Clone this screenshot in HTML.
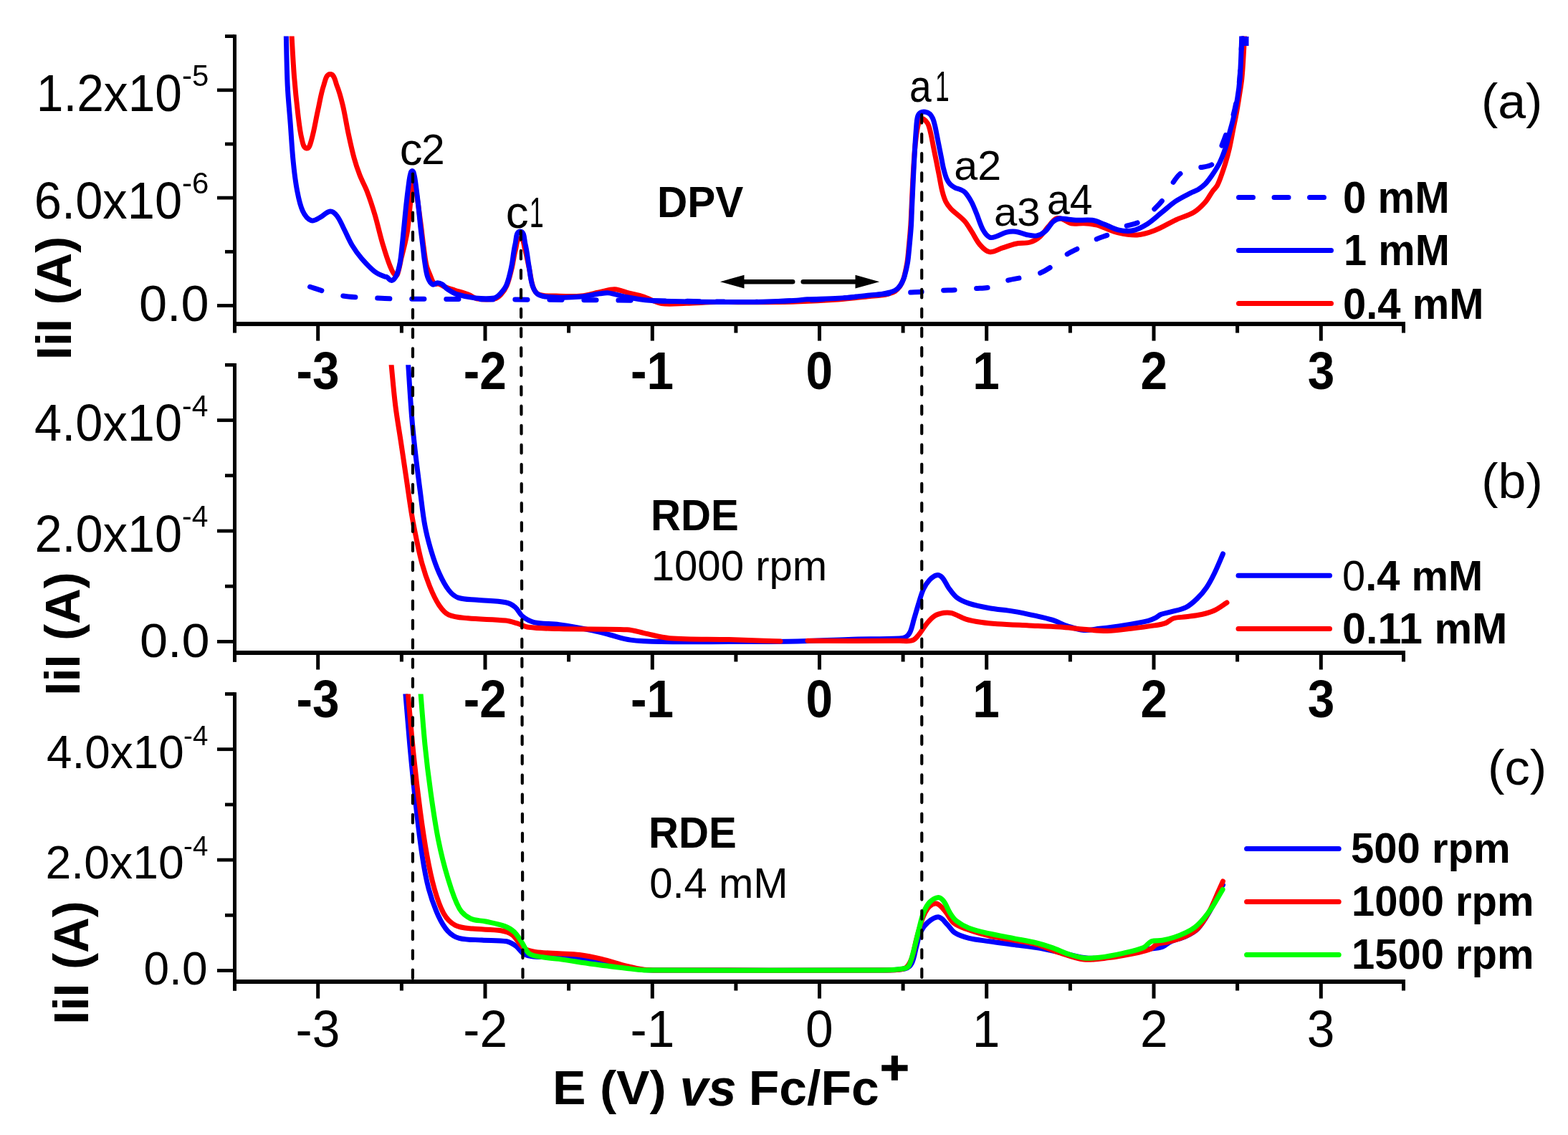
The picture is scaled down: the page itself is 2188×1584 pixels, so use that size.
<!DOCTYPE html>
<html><head><meta charset="utf-8"><style>
html,body{margin:0;padding:0;background:#fff;overflow:hidden}
svg{display:block}
text{font-family:"Liberation Sans",Arial,sans-serif;fill:#000}
</style></head><body>
<svg width="2188" height="1584" viewBox="0 0 2188 1584">
<defs><clipPath id="clipa"><rect x="327.5" y="50.6" width="1633.5" height="401.5"/></clipPath><clipPath id="clipb"><rect x="327.5" y="509.3" width="1633.5" height="401.7"/></clipPath><clipPath id="clipc"><rect x="327.5" y="968.5" width="1633.5" height="401.5"/></clipPath></defs>
<rect width="2188" height="1584" fill="#fff"/>
<rect x="325" y="48.3" width="5" height="416.3"/>
<rect x="325" y="449.1" width="1636" height="6"/>
<rect x="303" y="424.1" width="24.5" height="4.8"/>
<rect x="314" y="348.9" width="13.5" height="4.8"/>
<rect x="303" y="273.7" width="24.5" height="4.8"/>
<rect x="314" y="198.6" width="13.5" height="4.8"/>
<rect x="303" y="123.4" width="24.5" height="4.8"/>
<rect x="314" y="48.2" width="13.5" height="4.8"/>
<rect x="441.2" y="452.1" width="5" height="23.5"/>
<rect x="557.9" y="452.1" width="5" height="12.5"/>
<rect x="674.5" y="452.1" width="5" height="23.5"/>
<rect x="791.1" y="452.1" width="5" height="12.5"/>
<rect x="907.8" y="452.1" width="5" height="23.5"/>
<rect x="1024.4" y="452.1" width="5" height="12.5"/>
<rect x="1141.0" y="452.1" width="5" height="23.5"/>
<rect x="1257.6" y="452.1" width="5" height="12.5"/>
<rect x="1374.2" y="452.1" width="5" height="23.5"/>
<rect x="1490.9" y="452.1" width="5" height="12.5"/>
<rect x="1607.5" y="452.1" width="5" height="23.5"/>
<rect x="1724.1" y="452.1" width="5" height="12.5"/>
<rect x="1840.8" y="452.1" width="5" height="23.5"/>
<rect x="1956.0" y="452.1" width="5" height="12.5"/>
<rect x="325" y="507.0" width="5" height="416.9"/>
<rect x="325" y="908.0" width="1636" height="6"/>
<rect x="303" y="893.0" width="24.5" height="4.8"/>
<rect x="314" y="815.8" width="13.5" height="4.8"/>
<rect x="303" y="738.6" width="24.5" height="4.8"/>
<rect x="314" y="661.3" width="13.5" height="4.8"/>
<rect x="303" y="584.1" width="24.5" height="4.8"/>
<rect x="314" y="506.9" width="13.5" height="4.8"/>
<rect x="441.2" y="911.0" width="5" height="23.5"/>
<rect x="557.9" y="911.0" width="5" height="12.5"/>
<rect x="674.5" y="911.0" width="5" height="23.5"/>
<rect x="791.1" y="911.0" width="5" height="12.5"/>
<rect x="907.8" y="911.0" width="5" height="23.5"/>
<rect x="1024.4" y="911.0" width="5" height="12.5"/>
<rect x="1141.0" y="911.0" width="5" height="23.5"/>
<rect x="1257.6" y="911.0" width="5" height="12.5"/>
<rect x="1374.2" y="911.0" width="5" height="23.5"/>
<rect x="1490.9" y="911.0" width="5" height="12.5"/>
<rect x="1607.5" y="911.0" width="5" height="23.5"/>
<rect x="1724.1" y="911.0" width="5" height="12.5"/>
<rect x="1840.8" y="911.0" width="5" height="23.5"/>
<rect x="1956.0" y="911.0" width="5" height="12.5"/>
<rect x="325" y="966.2" width="5" height="416.6"/>
<rect x="325" y="1367.0" width="1636" height="6"/>
<rect x="303" y="1352.1" width="24.5" height="4.8"/>
<rect x="314" y="1274.9" width="13.5" height="4.8"/>
<rect x="303" y="1197.7" width="24.5" height="4.8"/>
<rect x="314" y="1120.5" width="13.5" height="4.8"/>
<rect x="303" y="1043.3" width="24.5" height="4.8"/>
<rect x="314" y="966.1" width="13.5" height="4.8"/>
<rect x="441.2" y="1370.0" width="5" height="23.5"/>
<rect x="557.9" y="1370.0" width="5" height="12.5"/>
<rect x="674.5" y="1370.0" width="5" height="23.5"/>
<rect x="791.1" y="1370.0" width="5" height="12.5"/>
<rect x="907.8" y="1370.0" width="5" height="23.5"/>
<rect x="1024.4" y="1370.0" width="5" height="12.5"/>
<rect x="1141.0" y="1370.0" width="5" height="23.5"/>
<rect x="1257.6" y="1370.0" width="5" height="12.5"/>
<rect x="1374.2" y="1370.0" width="5" height="23.5"/>
<rect x="1490.9" y="1370.0" width="5" height="12.5"/>
<rect x="1607.5" y="1370.0" width="5" height="23.5"/>
<rect x="1724.1" y="1370.0" width="5" height="12.5"/>
<rect x="1840.8" y="1370.0" width="5" height="23.5"/>
<rect x="1956.0" y="1370.0" width="5" height="12.5"/>
<text transform="matrix(0.9959 0 0 1.0745 50.72 155.10)" font-size="68">1.2x10</text>
<text transform="matrix(1.0000 0 0 1.0138 254.00 120.10)" font-size="42">-5</text>
<text transform="matrix(1.0101 0 0 1.0745 47.87 305.10)" font-size="68">6.0x10</text>
<text transform="matrix(1.0000 0 0 1.0138 254.00 270.10)" font-size="42">-6</text>
<text transform="matrix(1.0337 0 0 1.0255 193.90 448.10)" font-size="68">0.0</text>
<text transform="matrix(1.0090 0 0 1.0660 48.08 615.10)" font-size="68">4.0x10</text>
<text transform="matrix(0.9706 0 0 1.0034 254.06 581.00)" font-size="42">-4</text>
<text transform="matrix(1.0071 0 0 1.0660 48.48 769.50)" font-size="68">2.0x10</text>
<text transform="matrix(0.9706 0 0 1.0034 254.06 735.40)" font-size="42">-4</text>
<text transform="matrix(1.0337 0 0 0.9936 194.90 916.60)" font-size="68">0.0</text>
<text transform="matrix(0.9974 0 0 1.0222 65.00 1072.00)" font-size="64">4.0x10</text>
<text transform="matrix(0.9625 0 0 0.9714 256.07 1040.00)" font-size="40">-4</text>
<text transform="matrix(1.0048 0 0 1.0222 63.59 1226.00)" font-size="64">2.0x10</text>
<text transform="matrix(0.9625 0 0 0.9714 256.07 1194.00)" font-size="40">-4</text>
<text transform="matrix(1.0000 0 0 1.0000 200.50 1374.30)" font-size="64">0.0</text>
<text transform="matrix(1.0132 0 0 0.9953 2066.95 165.37)" font-size="69">(a)</text>
<text transform="matrix(1.0132 0 0 0.9828 2067.25 695.44)" font-size="69">(b)</text>
<text transform="matrix(1.0222 0 0 0.9828 2076.11 1095.34)" font-size="69">(c)</text>
<text transform="matrix(0.9547 0 0 1.0167 1873.99 296.70)" font-size="61" font-weight="bold">0 mM</text>
<text transform="matrix(0.9473 0 0 0.9952 1875.11 369.90)" font-size="61" font-weight="bold">1 mM</text>
<text transform="matrix(0.9498 0 0 1.0119 1874.00 444.60)" font-size="61" font-weight="bold">0.4 mM</text>
<text transform="matrix(0.9488 0 0 0.9833 1873.10 824.10)" font-size="61" font-weight="bold"><tspan font-weight="normal">0</tspan>.4 mM</text>
<text transform="matrix(0.9706 0 0 1.0095 1873.06 897.70)" font-size="61" font-weight="bold">0.11 mM</text>
<text transform="matrix(0.9518 0 0 0.9764 1885.00 1204.21)" font-size="61" font-weight="bold">500 rpm</text>
<text transform="matrix(0.9508 0 0 0.9855 1885.90 1278.19)" font-size="61" font-weight="bold">1000 rpm</text>
<text transform="matrix(0.9508 0 0 0.9800 1885.90 1352.26)" font-size="61" font-weight="bold">1500 rpm</text>
<text transform="matrix(0.9595 0 0 1.0000 917.06 303.00)" font-size="61" font-weight="bold">DPV</text>
<text transform="matrix(0.9533 0 0 1.0024 907.99 739.90)" font-size="61" font-weight="bold">RDE</text>
<text transform="matrix(0.9854 0 0 1.0000 908.67 809.90)" font-size="59">1000 rpm</text>
<text transform="matrix(0.9533 0 0 1.0024 904.99 1183.10)" font-size="61" font-weight="bold">RDE</text>
<text transform="matrix(0.9837 0 0 1.0122 906.13 1252.70)" font-size="59">0.4 mM</text>
<text transform="matrix(1.0760 0 0 1.0613 557.77 229.80)" font-size="59">c</text>
<text transform="matrix(0.9963 0 0 0.9976 588.11 228.90)" font-size="59">2</text>
<text transform="matrix(1.0800 0 0 1.0613 705.76 317.90)" font-size="59">c</text>
<text transform="matrix(0.6080 0 0 1.0024 738.86 317.00)" font-size="59">1</text>
<text transform="matrix(0.9367 0 0 1.0581 1269.09 141.80)" font-size="59">a</text>
<text transform="matrix(0.6000 0 0 1.0000 1305.00 141.00)" font-size="59">1</text>
<text transform="matrix(1.0033 0 0 0.9707 1331.29 250.50)" font-size="59">a2</text>
<text transform="matrix(0.9833 0 0 0.9415 1387.05 315.20)" font-size="59">a3</text>
<text transform="matrix(0.9689 0 0 0.9976 1460.99 299.30)" font-size="59">a4</text>
<text transform="matrix(1.0247 0 0 0.9938 771.08 1541.49)" font-size="68" font-weight="bold">E (V)</text>
<text transform="matrix(1.0478 0 0 1.0639 948.41 1543.10)" font-size="68" font-weight="bold" font-style="italic">vs</text>
<text transform="matrix(1.0247 0 0 1.0000 1044.78 1541.80)" font-size="68" font-weight="bold">Fc/Fc</text>
<text transform="matrix(1.0265 0 0 0.9629 1228.02 1511.61)" font-size="68" font-weight="bold" stroke="#000" stroke-width="1.3">+</text>
<text transform="matrix(0.9786 0 0 1.0745 413.41 543.30)" font-size="69" font-weight="bold">-3</text>
<text transform="matrix(0.9786 0 0 1.0702 413.41 1001.00)" font-size="69" font-weight="bold">-3</text>
<text transform="matrix(1.0218 0 0 1.0638 412.58 1461.00)" font-size="68">-3</text>
<text transform="matrix(0.9786 0 0 1.0745 646.66 543.30)" font-size="69" font-weight="bold">-2</text>
<text transform="matrix(0.9786 0 0 1.0702 646.66 1001.00)" font-size="69" font-weight="bold">-2</text>
<text transform="matrix(1.0218 0 0 1.0638 646.35 1461.00)" font-size="68">-2</text>
<text transform="matrix(0.9786 0 0 1.0745 879.91 543.30)" font-size="69" font-weight="bold">-1</text>
<text transform="matrix(0.9786 0 0 1.0702 879.91 1001.00)" font-size="69" font-weight="bold">-1</text>
<text transform="matrix(1.0218 0 0 1.0638 879.60 1461.00)" font-size="68">-1</text>
<text transform="matrix(0.9786 0 0 1.0745 1124.42 543.30)" font-size="69" font-weight="bold">0</text>
<text transform="matrix(0.9786 0 0 1.0702 1124.42 1001.00)" font-size="69" font-weight="bold">0</text>
<text transform="matrix(1.0218 0 0 1.0638 1124.09 1461.00)" font-size="68">0</text>
<text transform="matrix(0.9786 0 0 1.0745 1357.18 543.30)" font-size="69" font-weight="bold">1</text>
<text transform="matrix(0.9786 0 0 1.0702 1357.18 1001.00)" font-size="69" font-weight="bold">1</text>
<text transform="matrix(1.0218 0 0 1.0638 1356.82 1461.00)" font-size="68">1</text>
<text transform="matrix(0.9786 0 0 1.0745 1591.41 543.30)" font-size="69" font-weight="bold">2</text>
<text transform="matrix(0.9786 0 0 1.0702 1591.41 1001.00)" font-size="69" font-weight="bold">2</text>
<text transform="matrix(1.0218 0 0 1.0638 1591.10 1461.00)" font-size="68">2</text>
<text transform="matrix(0.9786 0 0 1.0745 1824.66 543.30)" font-size="69" font-weight="bold">3</text>
<text transform="matrix(0.9786 0 0 1.0702 1824.66 1001.00)" font-size="69" font-weight="bold">3</text>
<text transform="matrix(1.0218 0 0 1.0638 1823.84 1461.00)" font-size="68">3</text>
<text transform="translate(99.0,416.0) rotate(-90)" x="0" y="0" font-size="69" font-weight="bold" text-anchor="middle">IiI (A)</text>
<text transform="translate(111.1,884.5) rotate(-90)" x="0" y="0" font-size="69" font-weight="bold" text-anchor="middle">IiI (A)</text>
<text transform="translate(123.0,1343.5) rotate(-90)" x="0" y="0" font-size="69" font-weight="bold" text-anchor="middle">IiI (A)</text>
<g fill="none" stroke-width="7" stroke-linecap="round" stroke-linejoin="round">
<path d="M406.5,40.0 C407.8,62.1 408.8,84.2 410.5,106.3 C411.9,124.0 413.7,141.7 415.8,159.3 C417.2,170.8 418.3,182.4 421.1,193.7 C422.3,198.5 422.9,206.0 427.7,207.0 C431.8,207.8 433.1,200.4 434.3,196.4 C438.5,182.5 440.4,168.1 443.6,154.0 C446.2,142.5 447.8,130.7 451.6,119.5 C453.6,113.7 454.7,103.6 460.8,103.6 C466.9,103.6 467.8,113.8 470.1,119.5 C473.6,128.0 475.9,137.0 478.1,146.0 C481.3,159.2 483.2,172.6 486.0,185.8 C488.5,197.3 490.9,208.8 494.0,220.2 C496.2,228.3 498.9,236.3 501.9,244.1 C505.0,252.2 509.4,259.8 512.5,267.9 C516.5,278.3 519.9,289.0 523.1,299.7 C527.0,312.9 529.8,326.3 533.7,339.5 C536.9,350.2 540.0,361.0 544.3,371.3 C546.3,376.1 547.8,381.9 552.3,384.5 C554.5,385.7 555.3,380.4 556.0,378.0 C557.8,372.1 558.6,366.0 560.0,360.0 C561.6,353.3 563.5,346.7 565.0,340.0 C566.4,333.7 567.8,327.4 568.7,321.0 C570.1,310.7 570.9,300.3 572.0,290.0 C572.9,281.0 573.5,272.0 574.6,263.0 C575.0,259.6 574.3,255.5 576.5,253.0 C577.7,251.6 578.5,256.2 579.0,258.0 C580.4,263.6 581.2,269.3 582.0,275.0 C584.0,288.3 585.7,301.7 587.5,315.0 C588.7,324.5 589.7,334.1 591.0,343.6 C592.2,352.4 593.0,361.3 595.0,370.0 C596.1,374.9 598.3,379.4 600.2,384.0 C601.9,388.1 602.9,392.8 606.0,396.0 C607.4,397.4 610.1,395.5 612.0,396.0 C614.2,396.5 616.0,398.1 618.0,399.0 C620.3,400.1 622.6,401.1 625.0,402.0 C628.1,403.1 631.3,404.0 634.4,405.0 C641.2,407.2 648.1,409.0 654.7,411.5 C658.3,412.9 661.2,416.1 665.0,416.7 C673.2,418.0 681.8,418.4 690.0,417.0 C693.6,416.4 696.5,413.6 699.0,411.0 C702.3,407.5 705.2,403.4 707.0,399.0 C710.2,391.3 712.0,383.1 714.0,375.0 C716.2,366.1 717.0,356.8 719.5,348.0 C721.0,342.8 720.6,333.0 726.0,333.0 C731.4,333.0 730.9,342.8 732.5,348.0 C735.1,356.8 736.5,366.0 738.5,375.0 C740.4,383.7 740.9,392.7 744.0,401.0 C745.5,405.0 748.0,409.5 752.0,411.0 C759.5,413.8 768.0,412.7 776.0,413.0 C787.7,413.4 799.4,414.1 811.0,413.0 C820.4,412.1 829.5,409.0 838.8,407.2 C845.1,405.9 851.4,403.4 857.9,403.7 C864.5,404.0 870.6,407.2 877.0,408.9 C883.9,410.7 891.1,411.9 897.9,414.1 C906.4,416.8 914.2,422.2 923.0,423.5 C934.5,425.2 946.3,423.5 958.0,423.2 C972.0,422.9 986.0,421.8 1000.0,421.6 C1017.7,421.3 1035.3,421.9 1053.0,421.8 C1072.3,421.7 1091.7,421.6 1111.0,421.0 C1130.7,420.4 1150.4,419.4 1170.0,418.0 C1184.7,416.9 1199.3,415.0 1214.0,413.5 C1219.3,413.0 1224.7,412.7 1230.0,412.0 C1233.4,411.5 1236.7,410.9 1240.0,410.0 C1243.1,409.1 1246.3,408.2 1249.0,406.5 C1251.6,404.8 1253.7,402.5 1255.5,400.0 C1257.6,396.9 1259.2,393.5 1260.5,390.0 C1262.0,385.8 1262.8,381.4 1263.8,377.0 C1264.7,372.7 1265.6,368.4 1266.2,364.0 C1267.3,355.7 1267.9,347.3 1268.7,339.0 C1269.5,330.7 1270.2,322.3 1270.8,314.0 C1271.3,306.0 1271.6,298.0 1272.0,290.0 C1272.6,277.0 1273.1,264.0 1273.8,251.0 C1274.4,239.0 1275.1,227.0 1276.0,215.0 C1276.6,206.6 1277.4,198.3 1278.5,190.0 C1279.2,184.3 1280.0,178.5 1281.5,173.0 C1282.2,170.6 1283.3,168.2 1285.0,166.5 C1285.8,165.7 1287.5,165.4 1288.5,166.0 C1291.0,167.5 1293.2,169.7 1294.5,172.3 C1296.6,176.4 1297.5,181.0 1298.6,185.5 C1300.2,192.2 1301.3,199.0 1302.6,205.7 C1304.0,212.4 1305.3,219.2 1306.7,225.9 C1308.0,232.6 1309.4,239.4 1310.7,246.1 C1312.0,252.8 1313.0,259.7 1314.7,266.3 C1316.0,271.4 1317.5,276.6 1319.8,281.4 C1321.6,285.1 1324.2,288.4 1326.9,291.5 C1329.3,294.2 1332.3,296.2 1335.0,298.6 C1339.0,302.2 1343.3,305.4 1346.8,309.5 C1350.3,313.7 1352.9,318.6 1355.9,323.2 C1359.8,329.2 1362.6,336.0 1367.3,341.4 C1371.0,345.7 1375.3,350.8 1380.9,351.6 C1387.2,352.5 1393.0,347.8 1399.1,345.9 C1405.2,344.0 1411.1,341.5 1417.3,340.2 C1424.0,338.8 1431.1,340.0 1437.7,338.0 C1442.8,336.5 1447.4,333.5 1451.4,330.0 C1455.9,326.1 1458.7,320.8 1462.7,316.4 C1466.3,312.4 1469.3,307.4 1474.1,305.0 C1476.8,303.6 1480.3,305.1 1483.2,306.1 C1487.2,307.4 1490.4,311.0 1494.5,311.8 C1500.5,313.0 1506.6,311.4 1512.7,311.8 C1518.8,312.2 1524.9,312.9 1530.9,314.1 C1534.1,314.8 1537.0,316.4 1540.0,317.5 C1546.8,320.0 1553.4,323.2 1560.4,324.8 C1569.0,326.7 1577.9,328.4 1586.7,327.9 C1595.0,327.4 1603.1,324.8 1610.9,321.8 C1621.4,317.7 1631.0,311.4 1641.2,306.7 C1649.2,303.0 1658.0,301.1 1665.5,296.6 C1671.6,292.9 1676.8,287.7 1681.6,282.4 C1685.7,277.8 1688.4,272.0 1692.0,267.0 C1693.9,264.3 1696.5,262.2 1698.2,259.4 C1700.2,255.9 1701.6,252.1 1703.0,248.3 C1705.5,241.4 1707.9,234.5 1710.0,227.5 C1712.1,220.6 1714.0,213.7 1715.6,206.7 C1717.7,197.5 1719.3,188.2 1721.1,178.9 C1722.5,171.9 1724.0,165.0 1725.3,158.0 C1726.6,151.1 1727.7,144.1 1728.8,137.2 C1730.2,127.9 1732.0,118.7 1732.9,109.4 C1734.3,95.6 1734.9,81.7 1735.7,67.8 C1736.2,58.5 1736.6,49.3 1737.0,40.0" stroke="#ff0000" clip-path="url(#clipa)"/>
<path d="M431.7,400.0 C439.2,402.4 446.6,405.0 454.2,407.1 C461.2,409.1 468.2,411.1 475.4,412.4 C483.3,413.8 491.3,414.4 499.3,415.0 C506.4,415.5 513.4,415.5 520.5,415.8 C529.3,416.2 538.2,416.7 547.0,416.9 C563.0,417.2 579.0,417.1 595.0,417.2 C610.0,417.3 625.0,417.4 640.0,417.5 C660.0,417.7 680.0,417.9 700.0,418.0 C733.3,418.2 766.7,418.3 800.0,418.5 C833.3,418.8 866.7,419.1 900.0,419.5 C933.3,419.9 966.7,420.5 1000.0,421.0" stroke="#0000ff" stroke-dasharray="17.20 30.83" stroke-dashoffset="-0.87" clip-path="url(#clipa)"/>
<path d="M1000.0,421.0 C1017.7,421.1 1035.3,421.7 1053.0,421.4 C1072.3,421.1 1091.7,420.2 1111.0,419.4 C1130.7,418.6 1150.4,417.9 1170.0,416.5 C1184.7,415.5 1199.3,413.6 1214.0,412.2 C1223.7,411.3 1233.3,410.4 1243.0,409.6 C1249.6,409.1 1256.1,408.8 1262.7,408.4 C1270.3,408.0 1277.9,407.8 1285.5,407.3 C1293.8,406.8 1302.2,406.0 1310.5,405.5 C1318.8,405.0 1327.2,405.0 1335.5,404.5 C1343.8,404.0 1352.2,403.4 1360.5,402.7 C1368.1,402.1 1375.8,402.3 1383.2,400.5 C1390.3,398.7 1396.6,394.1 1403.6,392.0 C1411.4,389.6 1419.6,388.7 1427.5,387.0 C1434.7,385.4 1442.2,384.6 1449.1,382.0 C1455.6,379.6 1461.6,375.9 1467.3,372.0 C1473.8,367.5 1479.0,361.4 1485.5,357.0 C1491.9,352.7 1499.0,349.6 1505.9,346.0 C1514.2,341.7 1522.4,337.2 1530.9,333.4 C1536.5,330.9 1542.7,329.5 1548.3,326.9 C1554.9,323.9 1560.8,319.6 1567.5,316.8 C1574.7,313.8 1582.9,313.4 1589.7,309.7 C1596.2,306.2 1601.5,300.7 1606.9,295.6 C1612.6,290.2 1618.3,284.7 1623.0,278.4 C1627.4,272.5 1630.0,265.4 1634.1,259.2 C1637.8,253.6 1641.3,247.5 1646.3,243.0 C1650.1,239.6 1655.1,237.6 1660.0,236.0 C1664.3,234.6 1669.0,234.8 1673.5,233.9 C1679.3,232.8 1685.7,233.0 1690.7,229.9 C1694.8,227.3 1696.7,222.3 1699.0,218.0 C1701.5,213.2 1703.1,208.0 1705.0,203.0 C1707.1,197.7 1709.1,192.4 1711.0,187.0 C1712.8,182.0 1714.2,176.9 1716.0,172.0 C1717.5,167.9 1719.9,164.2 1721.1,160.0 C1723.5,151.5 1725.0,142.7 1726.5,134.0 C1728.0,125.4 1729.2,116.7 1730.0,108.0 C1731.2,94.6 1731.2,81.2 1732.2,67.8 C1732.6,62.5 1733.4,57.3 1734.0,52.0" stroke="#0000ff" stroke-dasharray="15.50 30.56" stroke-dashoffset="-317.18" clip-path="url(#clipa)"/>
<path d="M399.1,40.0 C399.8,66.5 400.0,93.0 401.2,119.5 C402.0,137.2 403.9,154.8 405.2,172.5 C406.5,190.2 407.4,207.9 409.2,225.5 C410.5,238.8 412.0,252.2 414.5,265.3 C416.4,275.2 418.1,285.3 422.4,294.4 C424.9,299.8 428.8,305.5 434.3,307.7 C438.2,309.2 442.5,305.5 446.3,303.7 C451.4,301.3 455.2,295.6 460.8,295.0 C464.5,294.6 467.8,298.2 470.1,301.1 C474.7,307.1 477.3,314.3 480.7,321.0 C484.3,328.0 487.2,335.4 491.3,342.2 C495.2,348.7 499.7,354.9 504.6,360.7 C510.3,367.3 516.2,373.9 523.1,379.3 C527.0,382.4 531.9,383.9 536.4,385.9 C537.5,386.4 538.9,386.2 540.0,386.8 C542.4,388.1 544.1,392.1 546.8,391.4 C550.2,390.6 552.1,386.6 553.6,383.4 C556.0,378.1 557.1,372.2 558.2,366.4 C559.6,358.9 560.2,351.2 561.0,343.6 C562.1,334.1 562.9,324.7 563.9,315.2 C564.8,305.7 565.7,296.3 566.7,286.8 C567.7,277.3 568.8,267.8 570.1,258.4 C570.8,253.4 571.3,248.4 572.6,243.5 C573.1,241.7 573.3,238.5 575.2,238.5 C577.1,238.5 577.3,241.7 577.8,243.5 C579.1,248.4 579.6,253.4 580.3,258.4 C581.6,267.8 582.7,277.3 583.8,286.8 C584.8,296.3 585.6,305.7 586.6,315.2 C587.6,324.7 588.9,334.1 590.0,343.6 C590.9,351.2 591.6,358.8 592.8,366.4 C593.9,373.2 594.5,380.3 596.8,386.8 C598.2,390.7 600.1,394.9 603.6,397.0 C605.7,398.2 608.1,394.8 610.5,394.8 C612.9,394.8 615.3,395.7 617.3,397.0 C619.8,398.6 621.3,401.4 623.8,403.1 C628.1,406.0 632.5,409.0 637.4,410.6 C645.8,413.3 654.6,415.0 663.4,415.9 C672.1,416.8 680.9,417.4 689.5,415.9 C693.0,415.3 695.8,412.4 698.2,409.8 C701.6,406.2 704.9,402.2 706.8,397.6 C710.2,389.3 711.9,380.4 713.8,371.6 C716.0,361.3 716.4,350.6 719.0,340.3 C720.5,334.3 719.7,323.0 725.9,323.0 C732.1,323.0 731.4,334.3 732.9,340.3 C735.5,350.6 736.3,361.2 738.1,371.6 C739.7,380.9 740.2,390.5 743.3,399.4 C744.9,404.1 747.5,409.4 752.0,411.5 C759.4,415.0 768.1,414.6 776.3,415.0 C787.9,415.5 799.5,415.1 811.0,414.1 C819.8,413.3 828.4,411.0 837.1,409.8 C841.1,409.3 845.2,408.4 849.2,408.9 C856.9,409.9 864.2,412.7 871.8,414.1 C883.3,416.2 894.9,418.4 906.6,419.3 C924.4,420.7 942.2,420.7 960.0,421.0 C991.0,421.4 1022.1,421.8 1053.1,421.4 C1072.6,421.2 1092.1,420.2 1111.6,419.2 C1116.5,419.0 1121.4,418.0 1126.3,417.8 C1140.9,417.1 1155.5,417.3 1170.1,416.3 C1184.8,415.3 1199.4,413.3 1214.0,411.9 C1219.3,411.4 1224.7,411.2 1230.0,410.5 C1233.6,410.0 1237.2,409.2 1240.7,408.2 C1243.8,407.3 1247.0,406.6 1249.7,404.9 C1252.3,403.3 1254.5,400.9 1256.3,398.4 C1258.4,395.4 1259.9,392.0 1261.2,388.5 C1262.7,384.5 1263.5,380.3 1264.5,376.2 C1265.4,372.1 1266.4,368.0 1266.9,363.9 C1268.0,355.7 1268.6,347.5 1269.4,339.3 C1270.2,331.1 1271.0,322.8 1271.5,314.6 C1272.0,306.4 1272.1,298.2 1272.5,290.0 C1273.1,277.0 1273.7,264.1 1274.3,251.1 C1275.0,237.6 1275.6,224.2 1276.4,210.7 C1277.0,200.6 1277.6,190.5 1278.4,180.4 C1278.9,174.6 1279.0,168.8 1280.4,163.2 C1281.0,160.9 1282.4,158.5 1284.4,157.2 C1286.4,155.9 1289.1,155.8 1291.5,156.2 C1293.7,156.5 1295.9,157.7 1297.6,159.2 C1299.4,160.8 1300.6,163.1 1301.6,165.3 C1303.0,168.5 1303.8,172.0 1304.6,175.4 C1305.8,180.4 1306.7,185.5 1307.7,190.5 C1308.7,195.6 1309.7,200.6 1310.7,205.7 C1311.7,210.7 1312.7,215.8 1313.7,220.8 C1314.7,225.9 1315.5,231.0 1316.8,236.0 C1317.9,240.4 1319.0,244.9 1320.8,249.1 C1322.1,252.0 1323.7,254.9 1325.9,257.2 C1327.8,259.3 1330.4,260.9 1332.9,262.2 C1335.1,263.3 1337.7,263.5 1340.0,264.5 C1342.4,265.6 1345.0,266.6 1346.8,268.6 C1350.5,272.7 1353.3,277.5 1355.9,282.3 C1358.6,287.4 1360.5,292.9 1362.7,298.2 C1365.8,305.7 1367.9,313.8 1371.8,320.9 C1374.0,324.9 1376.8,329.1 1380.9,331.1 C1383.6,332.5 1387.1,330.9 1390.0,330.0 C1394.7,328.6 1398.8,325.5 1403.6,324.3 C1408.0,323.2 1412.7,322.7 1417.3,323.2 C1422.8,323.8 1427.8,326.7 1433.2,327.7 C1437.7,328.6 1442.3,329.7 1446.8,328.9 C1451.0,328.1 1455.0,326.0 1458.2,323.2 C1462.7,319.4 1465.1,313.4 1469.5,309.5 C1472.0,307.2 1475.3,305.6 1478.6,305.0 C1482.4,304.4 1486.2,305.7 1490.0,306.1 C1493.8,306.5 1497.6,307.2 1501.4,307.3 C1509.0,307.6 1516.6,306.3 1524.1,307.3 C1529.7,308.1 1534.9,310.7 1540.2,312.7 C1547.0,315.2 1553.3,319.2 1560.4,320.8 C1567.0,322.3 1574.0,323.1 1580.6,321.8 C1587.8,320.3 1594.5,316.6 1600.8,312.7 C1608.1,308.1 1614.3,302.0 1621.0,296.6 C1627.7,291.2 1634.0,285.2 1641.2,280.4 C1647.6,276.1 1654.6,272.8 1661.4,269.3 C1664.8,267.5 1668.7,266.5 1672.0,264.5 C1675.6,262.2 1679.0,259.5 1682.0,256.5 C1685.2,253.2 1688.0,249.4 1690.6,245.6 C1694.6,239.7 1698.5,233.8 1701.7,227.5 C1705.0,220.8 1707.6,213.8 1710.0,206.7 C1712.3,199.9 1713.7,192.8 1715.6,185.8 C1717.4,178.9 1719.5,172.0 1721.1,165.0 C1723.2,155.8 1725.2,146.5 1726.7,137.2 C1728.2,128.0 1729.4,118.7 1730.1,109.4 C1731.2,95.6 1731.6,81.7 1732.2,67.8 C1732.6,58.5 1732.7,49.3 1733.0,40.0" stroke="#0000ff" clip-path="url(#clipa)"/>
<rect x="1731" y="51" width="11.5" height="13" fill="#0000ff"/>
<path d="M569.1,500.0 C570.9,526.5 572.3,553.1 574.4,579.6 C575.8,597.3 577.7,615.0 579.7,632.6 C581.7,650.3 584.0,667.9 586.3,685.6 C588.4,701.5 589.9,717.6 592.9,733.4 C595.2,745.9 598.5,758.3 602.2,770.5 C605.2,780.4 608.5,790.3 612.8,799.7 C616.5,808.0 620.6,816.3 626.1,823.5 C629.5,828.0 634.0,832.2 639.3,834.1 C647.7,837.0 656.9,836.4 665.8,837.3 C679.1,838.6 692.5,838.3 705.6,840.8 C710.5,841.7 715.1,844.2 718.9,847.4 C723.2,851.0 725.1,857.1 729.5,860.6 C734.1,864.3 739.6,867.3 745.4,868.6 C756.7,871.1 768.5,870.1 780.0,871.7 C795.9,873.9 811.7,876.8 827.5,880.0 C835.5,881.6 843.4,884.0 851.3,886.0 C860.8,888.4 870.1,891.8 879.8,893.1 C894.0,895.0 908.3,895.3 922.6,895.5 C954.3,896.1 985.9,895.6 1017.6,895.5 C1049.3,895.4 1081.0,895.6 1112.7,895.0 C1136.5,894.6 1160.2,893.1 1184.0,892.4 C1207.7,891.7 1231.4,892.0 1255.0,891.0 C1258.1,890.9 1261.4,890.6 1264.0,889.0 C1266.6,887.4 1268.7,884.8 1270.0,882.0 C1272.6,876.3 1273.6,870.1 1275.4,864.1 C1277.6,856.8 1279.6,849.4 1281.9,842.1 C1284.0,835.5 1285.6,828.7 1288.5,822.4 C1290.7,817.6 1293.7,813.0 1297.3,809.2 C1300.0,806.3 1303.3,803.4 1307.2,802.7 C1309.9,802.2 1312.9,804.0 1314.8,806.0 C1318.6,810.1 1320.3,815.7 1323.6,820.2 C1327.0,824.8 1330.1,829.9 1334.6,833.4 C1339.8,837.4 1345.9,840.0 1352.1,842.1 C1361.4,845.2 1371.1,847.0 1380.7,848.7 C1391.6,850.6 1402.7,851.3 1413.6,853.1 C1424.6,854.9 1435.6,857.3 1446.5,859.7 C1453.8,861.3 1461.2,862.9 1468.4,865.2 C1475.9,867.6 1482.9,871.6 1490.4,874.0 C1497.6,876.3 1504.8,878.8 1512.3,879.4 C1519.6,880.0 1526.9,878.2 1534.2,877.3 C1545.2,876.0 1556.2,874.7 1567.2,872.9 C1579.0,871.0 1590.7,869.1 1602.3,866.3 C1606.1,865.4 1609.7,863.7 1613.2,861.9 C1615.6,860.7 1617.3,858.5 1619.8,857.5 C1624.0,855.9 1628.6,855.4 1633.0,854.2 C1640.3,852.1 1648.1,851.0 1654.9,847.6 C1660.7,844.7 1665.6,840.1 1670.3,835.6 C1675.2,830.9 1679.6,825.8 1683.4,820.2 C1687.7,814.0 1691.1,807.3 1694.4,800.5 C1698.8,791.5 1702.5,782.2 1706.5,773.0" stroke="#0000ff" clip-path="url(#clipb)"/>
<path d="M545.2,500.0 C547.4,522.1 549.1,544.3 551.8,566.3 C554.0,584.0 557.2,601.6 559.8,619.3 C562.5,637.0 565.1,654.7 567.7,672.4 C569.9,687.4 571.9,702.4 574.4,717.4 C576.3,728.9 578.6,740.4 581.0,751.9 C583.4,763.4 585.7,775.0 588.9,786.4 C591.9,797.2 595.4,807.9 599.6,818.2 C603.3,827.3 607.3,836.5 612.8,844.7 C616.3,849.9 620.4,855.4 626.1,858.0 C634.3,861.7 643.7,861.9 652.6,862.8 C670.2,864.6 688.0,864.2 705.6,866.0 C711.0,866.6 716.3,868.4 721.5,869.9 C726.9,871.5 731.9,874.5 737.4,875.2 C751.5,877.1 765.8,877.2 780.0,877.6 C811.7,878.4 843.4,877.2 875.1,878.8 C883.2,879.2 890.9,882.0 898.8,883.6 C910.7,886.0 922.4,889.8 934.5,890.7 C962.1,892.8 989.9,891.8 1017.6,892.6 C1041.4,893.3 1065.2,894.2 1089.0,895.0" stroke="#ff0000" clip-path="url(#clipb)"/>
<path d="M1127.0,894.3 C1169.7,894.3 1212.3,894.5 1255.0,894.3 C1261.1,894.3 1267.4,895.5 1273.2,893.7 C1276.9,892.6 1279.4,888.9 1281.9,886.0 C1286.0,881.2 1288.9,875.5 1292.9,870.7 C1296.2,866.7 1299.5,862.5 1303.9,859.7 C1307.8,857.2 1312.5,856.1 1317.0,855.3 C1320.6,854.7 1324.5,854.7 1328.0,855.7 C1334.9,857.7 1340.9,862.0 1347.8,864.1 C1354.9,866.3 1362.3,867.4 1369.7,868.5 C1377.0,869.6 1384.3,870.2 1391.6,870.7 C1406.2,871.7 1420.9,872.2 1435.5,872.9 C1450.1,873.6 1464.8,874.1 1479.4,875.1 C1490.4,875.9 1501.3,877.4 1512.3,878.3 C1523.3,879.2 1534.2,880.7 1545.2,880.5 C1556.2,880.3 1567.2,878.6 1578.1,877.3 C1589.1,876.0 1600.1,874.6 1611.0,872.9 C1616.2,872.1 1621.5,871.4 1626.4,869.6 C1630.4,868.1 1633.3,864.3 1637.4,863.0 C1643.0,861.3 1649.1,861.6 1654.9,860.8 C1662.2,859.8 1669.7,859.1 1676.9,857.5 C1682.9,856.2 1688.9,854.6 1694.4,852.0 C1700.7,849.1 1706.1,844.7 1712.0,841.0" stroke="#ff0000" clip-path="url(#clipb)"/>
<path d="M565.2,960.0 C567.4,986.5 569.4,1013.0 571.8,1039.5 C574.2,1066.0 576.8,1092.5 579.8,1119.0 C582.6,1143.8 585.3,1168.6 589.0,1193.2 C591.4,1209.2 594.1,1225.2 598.3,1240.9 C601.7,1253.6 606.2,1266.0 611.6,1278.0 C615.1,1285.6 619.1,1293.2 624.8,1299.3 C629.1,1303.9 634.6,1307.7 640.7,1309.3 C651.0,1312.0 661.9,1311.3 672.5,1312.0 C684.0,1312.8 695.7,1311.8 707.0,1313.8 C711.9,1314.7 716.2,1317.6 720.2,1320.5 C724.2,1323.4 726.5,1328.5 730.8,1331.1 C734.7,1333.5 739.5,1334.6 744.1,1335.0 C756.0,1336.1 768.0,1335.2 780.0,1335.6 C789.3,1335.9 798.7,1336.2 808.0,1337.0 C818.7,1338.0 829.4,1339.0 840.0,1341.0 C851.8,1343.3 863.2,1347.5 875.0,1350.0 C882.8,1351.7 890.8,1352.9 898.8,1353.6 C905.8,1354.2 912.9,1353.9 920.0,1353.9 C1023.8,1354.0 1127.7,1354.5 1231.5,1353.9 C1241.8,1353.8 1252.3,1354.2 1262.4,1352.0 C1266.2,1351.2 1270.1,1348.5 1271.9,1345.0 C1275.9,1337.3 1276.6,1328.3 1279.0,1320.0 C1280.9,1313.3 1282.0,1306.3 1285.0,1300.0 C1287.4,1295.1 1290.8,1290.5 1295.0,1287.0 C1299.1,1283.6 1304.1,1279.3 1309.4,1279.8 C1314.6,1280.3 1317.7,1286.1 1321.4,1289.7 C1325.3,1293.5 1327.8,1298.9 1332.4,1301.8 C1338.3,1305.6 1345.3,1307.7 1352.1,1309.4 C1361.5,1311.7 1371.2,1312.4 1380.7,1313.8 C1391.7,1315.4 1402.6,1316.7 1413.6,1318.2 C1424.6,1319.7 1435.6,1320.8 1446.5,1322.6 C1457.5,1324.4 1468.5,1326.9 1479.4,1329.2 C1490.4,1331.5 1501.2,1334.9 1512.3,1336.5 C1519.5,1337.5 1526.9,1337.6 1534.2,1337.0 C1545.3,1336.1 1556.3,1334.0 1567.2,1332.0 C1578.2,1330.0 1589.0,1327.1 1600.0,1325.0 C1607.3,1323.6 1614.9,1323.8 1622.0,1321.5 C1626.1,1320.2 1629.0,1316.3 1633.0,1314.5 C1640.1,1311.3 1648.0,1309.9 1655.1,1306.5 C1661.0,1303.7 1667.1,1300.7 1671.6,1296.0 C1678.3,1289.0 1683.1,1280.4 1688.0,1272.0 C1691.3,1266.3 1693.5,1260.0 1696.3,1254.0 C1698.5,1249.3 1700.4,1244.5 1702.8,1240.0 C1703.8,1238.2 1705.3,1236.7 1706.5,1235.0" stroke="#0000ff" clip-path="url(#clipc)"/>
<path d="M568.6,960.0 C571.4,990.9 573.9,1021.9 577.1,1052.8 C579.8,1079.3 582.9,1105.9 586.4,1132.3 C589.1,1152.7 592.0,1173.0 595.7,1193.2 C598.6,1209.2 601.8,1225.3 606.3,1240.9 C609.7,1252.7 613.3,1264.7 619.5,1275.4 C623.2,1281.9 628.8,1287.8 635.4,1291.3 C642.6,1295.0 651.2,1295.2 659.3,1296.1 C672.5,1297.6 685.9,1296.7 699.0,1298.7 C704.6,1299.6 710.4,1301.2 714.9,1304.6 C721.4,1309.5 724.3,1318.2 730.8,1323.1 C735.3,1326.4 741.2,1327.5 746.7,1328.4 C757.7,1330.1 768.9,1330.1 780.0,1330.8 C789.5,1331.4 799.1,1331.3 808.5,1332.5 C818.9,1333.8 829.2,1336.0 839.4,1338.4 C851.4,1341.3 863.1,1345.5 875.1,1348.5 C882.9,1350.4 890.8,1352.2 898.8,1353.2 C905.8,1354.0 912.9,1353.9 920.0,1353.9 C1023.8,1354.1 1127.7,1354.6 1231.5,1353.9 C1241.8,1353.8 1252.8,1355.2 1262.4,1351.5 C1267.4,1349.6 1269.9,1343.4 1271.9,1338.4 C1275.5,1329.3 1276.4,1319.4 1279.0,1310.0 C1281.8,1299.9 1284.1,1289.7 1288.0,1280.0 C1290.2,1274.6 1292.8,1269.1 1297.0,1265.0 C1299.6,1262.5 1303.7,1260.1 1307.2,1261.2 C1312.3,1262.8 1315.6,1268.0 1319.2,1272.1 C1323.4,1276.8 1325.4,1283.4 1330.2,1287.5 C1335.2,1291.7 1341.6,1294.0 1347.8,1296.3 C1358.5,1300.3 1369.6,1303.5 1380.7,1306.2 C1391.5,1308.8 1402.6,1310.0 1413.6,1312.0 C1424.6,1314.0 1435.7,1315.1 1446.5,1318.0 C1457.8,1321.1 1468.3,1326.4 1479.4,1330.0 C1490.2,1333.5 1501.0,1337.9 1512.3,1339.1 C1523.2,1340.2 1534.3,1338.3 1545.2,1336.9 C1559.9,1335.0 1574.5,1332.2 1589.1,1329.2 C1594.8,1328.0 1600.5,1326.8 1605.8,1324.4 C1609.0,1323.0 1610.8,1319.2 1614.0,1317.9 C1619.2,1315.8 1625.1,1316.1 1630.5,1314.6 C1638.8,1312.2 1647.2,1309.9 1655.1,1306.3 C1661.0,1303.6 1667.1,1300.5 1671.6,1295.7 C1678.3,1288.5 1683.1,1279.6 1688.0,1271.0 C1691.3,1265.3 1693.6,1258.9 1696.3,1252.9 C1698.2,1248.6 1700.1,1244.3 1702.0,1240.0 C1703.5,1236.7 1705.0,1233.3 1706.5,1230.0" stroke="#ff0000" clip-path="url(#clipc)"/>
<path d="M586.4,960.0 C588.6,986.5 590.4,1013.0 593.0,1039.5 C595.2,1061.6 597.9,1083.8 601.0,1105.8 C604.1,1127.9 607.2,1150.1 611.6,1172.0 C615.2,1189.9 619.5,1207.6 624.8,1225.0 C629.2,1239.4 633.3,1254.2 640.7,1267.4 C644.2,1273.7 650.2,1278.8 656.6,1282.0 C663.0,1285.2 670.8,1284.4 677.8,1286.0 C686.7,1288.0 695.8,1289.5 704.3,1292.6 C709.2,1294.4 713.8,1297.0 717.6,1300.6 C722.0,1304.7 724.8,1310.3 728.2,1315.2 C731.8,1320.4 733.6,1327.4 738.8,1331.1 C744.0,1334.8 751.0,1334.7 757.3,1335.8 C764.8,1337.1 772.5,1337.4 780.0,1338.4 C795.9,1340.6 811.6,1343.3 827.5,1345.5 C843.3,1347.7 859.2,1349.6 875.1,1351.5 C883.0,1352.4 890.9,1353.5 898.8,1353.9 C905.9,1354.3 912.9,1354.0 920.0,1354.0 C1023.8,1354.0 1127.7,1354.8 1231.5,1354.0 C1241.8,1353.9 1252.3,1353.5 1262.4,1351.5 C1265.0,1351.0 1267.6,1349.1 1268.8,1346.7 C1272.1,1339.8 1273.4,1332.2 1275.4,1324.8 C1277.8,1316.1 1279.6,1307.2 1281.9,1298.5 C1284.0,1290.4 1285.5,1282.1 1288.5,1274.3 C1290.6,1268.8 1293.2,1263.3 1297.3,1259.0 C1300.5,1255.7 1304.8,1252.7 1309.4,1252.4 C1312.5,1252.2 1315.1,1255.4 1317.0,1257.9 C1320.7,1262.9 1322.4,1269.1 1325.8,1274.3 C1328.3,1278.3 1330.9,1282.4 1334.6,1285.3 C1339.8,1289.5 1345.8,1292.8 1352.1,1295.2 C1361.3,1298.7 1371.1,1300.7 1380.7,1302.9 C1391.6,1305.4 1402.6,1307.2 1413.6,1309.4 C1424.6,1311.6 1435.6,1313.4 1446.5,1316.0 C1453.9,1317.8 1461.2,1320.1 1468.4,1322.6 C1475.9,1325.2 1482.9,1329.0 1490.4,1331.4 C1497.6,1333.7 1504.8,1336.1 1512.3,1336.9 C1519.6,1337.7 1526.9,1337.1 1534.2,1336.2 C1545.3,1334.9 1556.3,1332.7 1567.2,1330.3 C1576.8,1328.2 1586.6,1326.4 1595.7,1322.6 C1600.0,1320.8 1602.3,1315.5 1606.6,1313.8 C1611.4,1311.9 1616.9,1313.2 1622.0,1312.3 C1627.7,1311.3 1633.2,1309.8 1638.7,1308.0 C1644.3,1306.2 1649.8,1304.0 1655.1,1301.4 C1659.4,1299.3 1663.7,1297.0 1667.5,1294.0 C1672.0,1290.4 1676.0,1286.1 1679.8,1281.7 C1684.3,1276.5 1688.3,1270.9 1692.1,1265.2 C1695.1,1260.7 1697.6,1255.9 1700.4,1251.2 C1702.3,1247.9 1704.2,1244.7 1706.1,1241.4" stroke="#00ff00" clip-path="url(#clipc)"/>
<path d="M1728.5,275.5 H1857.5" stroke="#0000ff" stroke-dasharray="20 29.5"/>
<path d="M1728.5,349.5 H1857.5" stroke="#0000ff"/>
<path d="M1728.5,423.5 H1857.5" stroke="#ff0000"/>
<path d="M1728,803.3 H1855.5" stroke="#0000ff"/>
<path d="M1728,877.6 H1855.5" stroke="#ff0000"/>
<path d="M1739.6,1184.5 H1868.2" stroke="#0000ff"/>
<path d="M1739.6,1258.6 H1868.2" stroke="#ff0000"/>
<path d="M1739.6,1332.6 H1868.2" stroke="#00ff00"/>
</g>
<g stroke="#000" stroke-width="4.2" stroke-linecap="round" stroke-dasharray="11.6 15.5" fill="none">
<path d="M576,242.5 L575.9,1366"/>
<path d="M726.8,322.8 L729.5,1366"/>
<path d="M1286.2,160 L1286.3,1366"/>
</g>
<g stroke="#000" stroke-width="6.6" stroke-linecap="round">
<path d="M1030,393.2 H1106.1"/><path d="M1120.8,393.2 H1200"/>
</g>
<path d="M1004.9,393.2 L1038.5,383.8 L1038.5,402.6 Z M1227.2,393.2 L1193.5,383.8 L1193.5,402.6 Z" fill="#000"/>
</svg>
</body></html>
